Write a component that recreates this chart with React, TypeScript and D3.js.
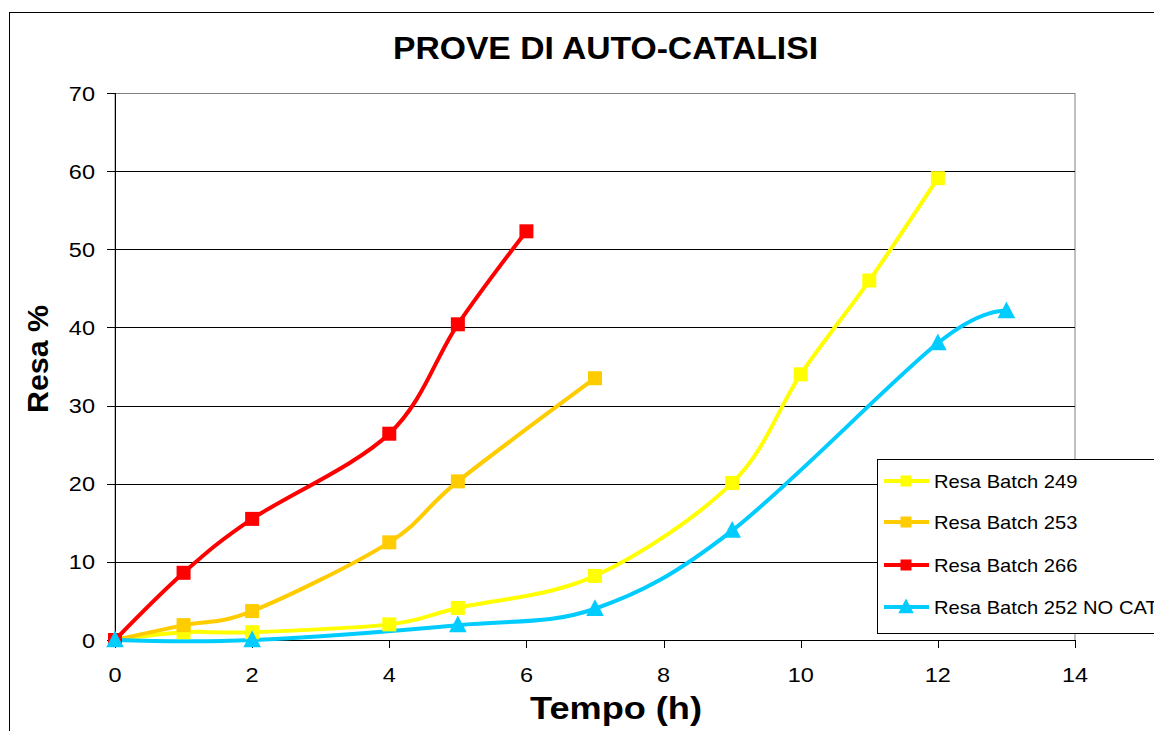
import React from "react";
import * as d3 from "d3";

const seriesNames = ["Resa Batch 249", "Resa Batch 253", "Resa Batch 266", "Resa Batch 252 NO CAT"];
const x249 = [0, 1, 2, 4, 5, 7, 9, 10, 11, 12];
const y249 = [0, 1, 1, 2, 4.1, 8.2, 20.1, 34, 46, 59.1];
const x253 = [0, 1, 2, 4, 5, 7];
const y253 = [0, 1.9, 3.7, 12.5, 20.3, 33.5];
const x266 = [0, 1, 2, 4, 5, 6];
const y266 = [0, 8.6, 15.5, 26.4, 40.4, 52.3];
const x252 = [0, 2, 5, 7, 9, 12, 13];
const y252 = [0, 0, 1.9, 4, 14, 38, 42.1];
const xTicks = [0, 2, 4, 6, 8, 10, 12, 14];
const yTicks = [0, 10, 20, 30, 40, 50, 60, 70];
const colors = ["#FFFF00", "#FFCC00", "#FF0000", "#00CCFF"];
const markers = ["square", "square", "square", "triangle"];

const W = 1154, H = 731;
const L = 115, R = 1075, T = 93, B = 640;
const FONT = "'Liberation Sans', Arial, sans-serif";
const SX = 1.12;

export default function App() {
  const x = d3.scaleLinear().domain([0, 14]).range([L, R]);
  const y = d3.scaleLinear().domain([0, 70]).range([B, T]);
  const data = [
    x249.map((v, i) => [v, y249[i]]),
    x253.map((v, i) => [v, y253[i]]),
    x266.map((v, i) => [v, y266[i]]),
    x252.map((v, i) => [v, y252[i]]),
  ] as [number, number][][];
  const line = d3.line<[number, number]>().x(d => x(d[0])).y(d => y(d[1])).curve(d3.curveCardinal.tension(0));
  const sq = 14;
  const tri = (cx: number, cy: number, s: number) =>
    `M${cx},${cy - s * 0.6}L${cx + s * 0.55},${cy + s * 0.45}L${cx - s * 0.55},${cy + s * 0.45}Z`;
  const marker = (k: number, cx: number, cy: number, key: string) =>
    markers[k] === "square" ? (
      <rect key={key} x={cx - sq / 2} y={cy - sq / 2} width={sq} height={sq} fill={colors[k]} />
    ) : (
      <path key={key} d={tri(cx, cy, 16)} fill={colors[k]} />
    );
  const legY = [481, 522, 565, 607];
  return (
    <svg width={W} height={H} style={{ position: "absolute", left: 0, top: 0, background: "#fff" }} fontFamily={FONT}>
      <rect x={9.5} y={12.5} width={W + 20} height={H + 20} fill="#fff" stroke="#000" strokeWidth={1} />
      <text x={605.5} y={59} textAnchor="middle" fontSize={31} fontWeight="bold" textLength={425} lengthAdjust="spacingAndGlyphs">PROVE DI AUTO-CATALISI</text>
      <rect x={L} y={T + 0.5} width={R - L} height={B - T} fill="none" stroke="#808080" strokeWidth={1} />
      {yTicks.filter(t => t > 0 && t < 70).map(t => (
        <line key={"g" + t} x1={L} x2={R} y1={Math.round(y(t)) + 0.5} y2={Math.round(y(t)) + 0.5} stroke="#000" strokeWidth={1} />
      ))}
      <line x1={L + 0.5} x2={L + 0.5} y1={T} y2={B} stroke="#000" />
      <line x1={L} x2={R} y1={B + 0.5} y2={B + 0.5} stroke="#000" />
      {yTicks.map(t => (
        <g key={"yt" + t}>
          <line x1={L - 8} x2={L} y1={Math.round(y(t)) + 0.5} y2={Math.round(y(t)) + 0.5} stroke="#000" />
          <text transform={`translate(95,${y(t) + 7.5}) scale(${SX},1)`} textAnchor="end" fontSize={21}>{t}</text>
        </g>
      ))}
      {xTicks.map(t => (
        <g key={"xt" + t}>
          <line x1={Math.round(x(t)) + 0.5} x2={Math.round(x(t)) + 0.5} y1={B} y2={B + 8} stroke="#000" />
          <text transform={`translate(${x(t)},682) scale(${SX},1)`} textAnchor="middle" fontSize={21}>{t}</text>
        </g>
      ))}
      <text x={616} y={719} textAnchor="middle" fontSize={31} fontWeight="bold" textLength={172} lengthAdjust="spacingAndGlyphs">Tempo (h)</text>
      <text transform={`translate(48,359) rotate(-90)`} textAnchor="middle" fontSize={30} fontWeight="bold" textLength={108} lengthAdjust="spacingAndGlyphs">Resa %</text>
      {data.map((d, k) => (
        <path key={"l" + k} d={line(d) || ""} fill="none" stroke={colors[k]} strokeWidth={4} />
      ))}
      {data.map((d, k) => d.map((p, i) => marker(k, x(p[0]), y(p[1]), `m${k}-${i}`)))}
      <rect x={877.5} y={459.5} width={300} height={174} fill="#fff" stroke="#000" strokeWidth={1} />
      {seriesNames.map((n, k) => (
        <g key={"lg" + k}>
          <line x1={884} x2={929} y1={legY[k]} y2={legY[k]} stroke={colors[k]} strokeWidth={4} />
          {markers[k] === "square" ? (
            <rect x={906 - 5.5} y={legY[k] - 5.5} width={11} height={11} fill={colors[k]} />
          ) : (
            <path d={tri(906, legY[k], 14)} fill={colors[k]} />
          )}
          <text transform={`translate(934,${legY[k] + 6.5}) scale(${SX},1)`} fontSize={18}>{n}</text>
        </g>
      ))}
    </svg>
  );
}
